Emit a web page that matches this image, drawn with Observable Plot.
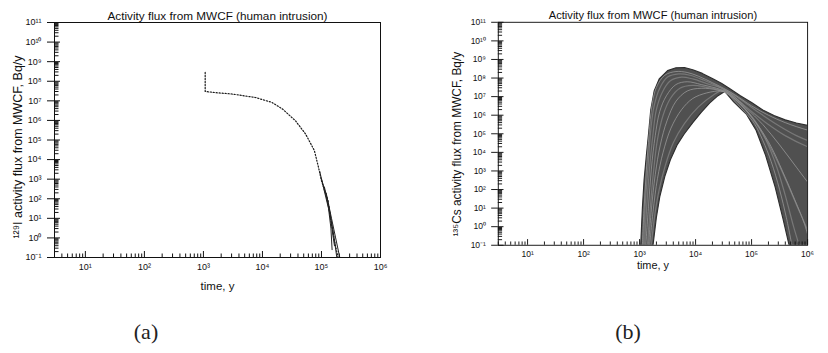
<!DOCTYPE html>
<html><head><meta charset="utf-8">
<script src="https://cdn.jsdelivr.net/npm/d3@7"></script>
<script src="https://cdn.jsdelivr.net/npm/@observablehq/plot@0.6"></script>
<style>
html,body{margin:0;padding:0;background:#fff;}
#wrap{position:relative;width:828px;height:353px;overflow:hidden;background:#fff;}
.panel{position:absolute;top:0;}
.tag{position:absolute;font-family:"Liberation Serif","DejaVu Serif",serif;font-size:22px;color:#222;transform:translate(-50%,-50%);white-space:nowrap;}
</style></head><body>
<div id="wrap">
  <div id="pa" class="panel" style="left:0"></div>
  <div id="pb" class="panel" style="left:420px"></div>
  <div class="tag" style="left:146px;top:332px">(a)</div>
  <div class="tag" style="left:628px;top:332px">(b)</div>
</div>
<script>
// ---- text ----
const title = "Activity flux from MWCF (human intrusion)";
const xLabel = "time, y";
const yLabelA = "¹²⁹I activity flux from MWCF, Bq/y";
const yLabelB = "¹³⁵Cs activity flux from MWCF, Bq/y";

// ---- axes (exponents of ten) ----
const xDomain = [3, 1e6];
const yDomain = [0.1, 1e11];
const xTickExp = [1, 2, 3, 4, 5, 6];
const yTickExp = [-1, 0, 1, 2, 3, 4, 5, 6, 7, 8, 9, 10, 11];
const minorMult = [2, 3, 4, 5, 6, 7, 8, 9];

// ---- panel (a): 129I, [log10 time, log10 flux] ----
const iodineMain = [[3.03,8.45],[3.03,7.48],[3.2,7.42],[3.48,7.35],[3.88,7.17],[4.16,6.92],[4.34,6.58],[4.56,5.98],[4.73,5.31],[4.88,4.46],[4.95,3.6],[5.0,2.92],[5.11,1.9],[5.16,0.88],[5.22,-0.14],[5.28,-1.0]];
const iodineTail1 = [[4.97,3.4],[5.04,2.5],[5.12,1.5],[5.16,0.5],[5.18,-0.6]];
const iodineTail2 = [[5.0,3.0],[5.1,2.0],[5.17,1.0],[5.24,0.0],[5.31,-1.0]];
const iodineTail3 = [[5.05,2.6],[5.13,1.4],[5.2,0.3],[5.26,-1.0]];
const iodineTail4 = [[5.08,2.3],[5.15,1.2],[5.19,0.2],[5.22,-0.4]];

// ---- panel (b): 135Cs band outline and individual realisations ----
const cesiumBand = [[3.02,-1],[3.05,1.0],[3.08,2.5],[3.12,3.8],[3.16,5.0],[3.2,6.3],[3.26,7.3],[3.35,7.95],[3.5,8.4],[3.65,8.55],[3.8,8.57],[3.95,8.45],[4.12,8.25],[4.3,7.98],[4.46,7.72],[4.6,7.45],[4.8,7.05],[5.0,6.68],[5.2,6.28],[5.4,5.98],[5.6,5.75],[5.8,5.58],[6.0,5.45],[6.3,5.25],[6.3,-1],
  [5.67,-1],[5.56,0.44],[5.42,2.14],[5.25,3.84],[5.08,5.19],[4.91,6.04],[4.68,6.72],[4.52,7.28],[4.4,7.05],[4.25,6.65],[4.1,6.15],[3.95,5.6],[3.8,5.0],[3.67,4.4],[3.55,3.6],[3.45,2.7],[3.36,1.6],[3.3,0.5],[3.24,-1]];
const cesiumRun1 = [[3.05,-1],[3.08,1],[3.12,3],[3.17,5],[3.22,6.5],[3.3,7.5],[3.45,8.15],[3.65,8.35],[3.85,8.3],[4.05,8.1],[4.3,7.75],[4.5,7.45],[4.7,7.1],[5.0,6.5],[5.3,6.0],[5.6,5.6],[6.0,5.2],[6.3,5.0]];
const cesiumRun2 = [[3.09,-1],[3.13,1.2],[3.18,3.2],[3.24,5],[3.3,6.3],[3.4,7.2],[3.55,7.85],[3.75,8.05],[3.95,7.95],[4.2,7.7],[4.5,7.4],[4.7,6.95],[5.0,6.2],[5.3,5.5],[5.6,4.9],[6.0,4.3],[6.3,4.0]];
const cesiumRun3 = [[3.11,-1],[3.16,1.1],[3.21,3.1],[3.28,4.9],[3.36,6.2],[3.48,7.05],[3.65,7.65],[3.85,7.8],[4.1,7.65],[4.45,7.38],[4.65,7.1],[4.9,6.4],[5.2,5.5],[5.5,4.4],[5.8,3.2],[6.1,2.0]];
const cesiumRun4 = [[3.14,-1],[3.19,1],[3.25,3],[3.32,4.7],[3.42,6],[3.55,6.9],[3.72,7.45],[3.95,7.6],[4.2,7.5],[4.45,7.35],[4.6,7.1],[4.8,6.6],[5.0,5.9],[5.2,5.0],[5.4,3.9],[5.6,2.6],[5.8,1.2],[6.0,-0.2],[6.1,-1]];
const cesiumRun5 = [[3.18,-1],[3.24,0.8],[3.32,2.6],[3.42,4.0],[3.56,5.3],[3.75,6.3],[3.95,6.9],[4.2,7.2],[4.45,7.3],[4.55,7.2],[4.7,6.75],[4.9,6.1],[5.05,5.55],[5.2,4.65],[5.35,3.5],[5.5,2.0],[5.62,0.5],[5.72,-1]];
const cesiumRun6 = [[3.21,-1],[3.27,0.6],[3.35,2.0],[3.46,3.3],[3.6,4.5],[3.8,5.55],[4.05,6.45],[4.3,7.05],[4.5,7.35],[4.65,7.0],[4.85,6.45],[5.05,5.75],[5.25,4.7],[5.45,3.2],[5.6,1.7],[5.75,0],[5.85,-1]];
const cesiumRun7 = [[3.07,-1],[3.1,1.1],[3.15,3.2],[3.2,5.2],[3.26,6.5],[3.36,7.45],[3.5,8.05],[3.7,8.22],[3.9,8.15],[4.15,7.88],[4.4,7.55],[4.6,7.25],[4.85,6.75],[5.15,6.1],[5.45,5.5],[5.8,4.9],[6.2,4.4]];
const cesiumRun8 = [[3.16,-1],[3.21,0.9],[3.28,2.8],[3.37,4.4],[3.49,5.7],[3.65,6.75],[3.85,7.3],[4.1,7.45],[4.4,7.35],[4.58,7.15],[4.75,6.75],[4.95,6.1],[5.15,5.3],[5.35,4.3],[5.55,3.0],[5.75,1.6],[5.95,0.1],[6.05,-1]];

// ---- helpers ----
const SUP = {"-":"⁻","0":"⁰","1":"¹","2":"²","3":"³","4":"⁴","5":"⁵","6":"⁶","7":"⁷","8":"⁸","9":"⁹"};
const fmt = d => "10" + String(Math.round(Math.log10(d))).replace(/./g, c => SUP[c]);
const inDom = (v, dom) => v >= dom[0] * 0.999 && v <= dom[1] * 1.001;
const xMajor = xTickExp.map(e => 10 ** e).filter(v => inDom(v, xDomain));
const yMajor = yTickExp.map(e => 10 ** e).filter(v => inDom(v, yDomain));
const xMinor = [0, ...xTickExp].flatMap(e => minorMult.map(m => m * 10 ** e)).filter(v => inDom(v, xDomain));
const yMinor = yTickExp.flatMap(e => minorMult.map(m => m * 10 ** e)).filter(v => inDom(v, yDomain));
const X = d => 10 ** d[0], Y = d => 10 ** d[1];
const runs = (list) => list.flatMap((r, k) => r.map(p => ({t: p[0], q: p[1], k})));

function panel({width, marginLeft, marginTop, marginBottom, yLabel, ldx, ldy, timeDy, marks}) {
  return Plot.plot({
    width, height: 300, marginLeft, marginRight: Math.max(0, width - marginLeft - 326),
    marginTop, marginBottom,
    style: {fontFamily: "'Liberation Sans', Arial, sans-serif", background: "#fff", color: "#111"},
    x: {type: "log", domain: xDomain},
    y: {type: "log", domain: yDomain},
    marks: [
      ...marks,
      Plot.frame({stroke: "#111", strokeWidth: 1}),
      Plot.axisX({ticks: xMajor, tickSize: 0, tickPadding: 6, tickFormat: fmt, fontSize: 9, label: null}),
      Plot.axisX({ticks: xMajor, tickSize: 6, dy: -6, tickFormat: () => "", label: null}),
      Plot.axisX({ticks: xMinor, tickSize: 3.5, dy: -3.5, tickFormat: () => "", label: null}),
      Plot.axisY({ticks: yMajor, tickSize: 7, tickPadding: 6, tickFormat: fmt, fontSize: 9, label: null}),
      Plot.axisY({ticks: yMajor, tickSize: 6, dx: 6, tickFormat: () => "", label: null}),
      Plot.axisY({ticks: yMinor, tickSize: 4.5, dx: 4.5, tickFormat: () => "", label: null}),
      Plot.text([title], {text: d => d, frameAnchor: "top", lineAnchor: "bottom", dy: -3, fontSize: 11.75}),
      Plot.text([xLabel], {text: d => d, frameAnchor: "bottom", dy: timeDy, fontSize: 11.5}),
      Plot.text([yLabel], {text: d => d, frameAnchor: "left", textAnchor: "middle", rotate: -90, dx: ldx, dy: ldy, fontSize: 12.5})
    ]
  });
}

const plotA = panel({
  width: 400, marginLeft: 54, marginTop: 22, marginBottom: 43, yLabel: yLabelA, ldx: -37, ldy: 7, timeDy: 32,
  marks: [
    Plot.line(iodineMain, {x: X, y: Y, stroke: "#1a1a1a", strokeWidth: 1.2, strokeDasharray: "1.2,1.8", clip: true}),
    Plot.line(runs([iodineTail1, iodineTail2, iodineTail3, iodineTail4]), {x: d => 10 ** d.t, y: d => 10 ** d.q, z: "k", stroke: "#222", strokeWidth: 1, clip: true})
  ]
});
const plotB = panel({
  width: 430, marginLeft: 82, marginTop: 23, marginBottom: 42, yLabel: yLabelB, ldx: -43, ldy: 11, timeDy: 25,
  marks: [
    Plot.line(cesiumBand, {x: X, y: Y, fill: "#505050", stroke: "#2e2e2e", strokeWidth: 1.2, clip: true}),
    Plot.line(runs([cesiumRun1, cesiumRun3, cesiumRun5, cesiumRun8]), {x: d => 10 ** d.t, y: d => 10 ** d.q, z: "k", stroke: "#b0b0b0", strokeWidth: 0.9, strokeOpacity: 0.7, curve: "catmull-rom", clip: true}),
    Plot.line(runs([cesiumRun2, cesiumRun4, cesiumRun6, cesiumRun7]), {x: d => 10 ** d.t, y: d => 10 ** d.q, z: "k", stroke: "#8c8c8c", strokeWidth: 1.3, strokeOpacity: 0.65, curve: "catmull-rom", clip: true})
  ]
});
document.getElementById("pa").appendChild(plotA);
document.getElementById("pb").appendChild(plotB);
</script>
</body></html>
